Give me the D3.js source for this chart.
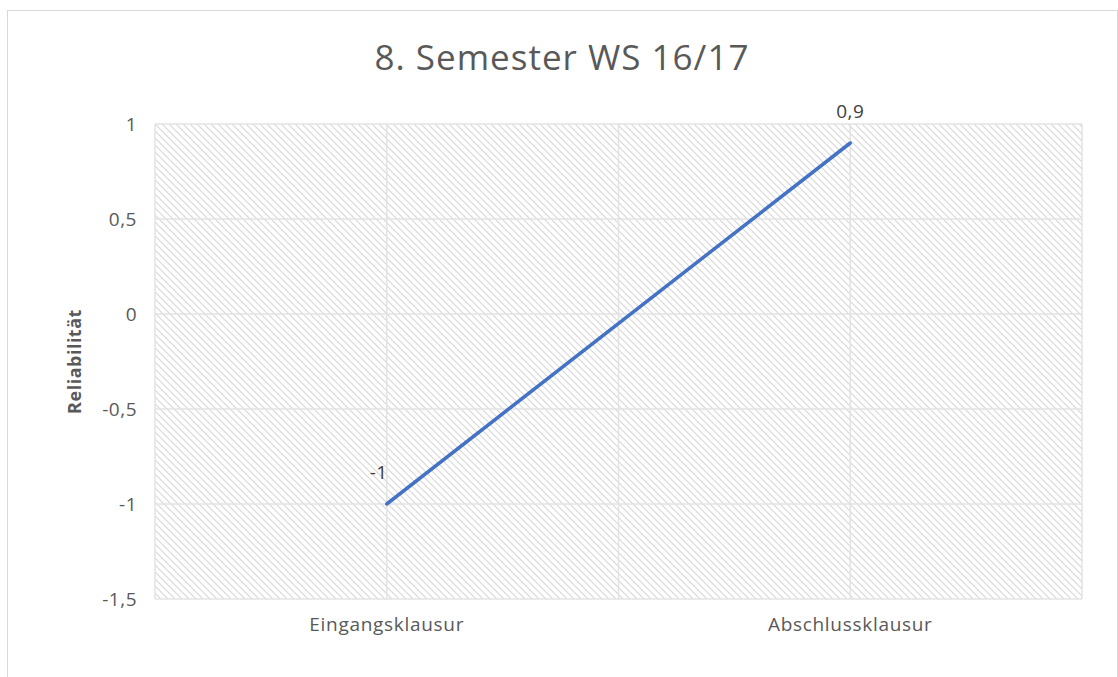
<!DOCTYPE html>
<html>
<head>
    <script src="https://d3js.org/d3.v7.min.js"></script>
    <style>
        body { margin: 0; background: #fff; }
        text { font-family: "Open Sans", sans-serif; fill: #595959; }
    </style>
</head>
<body>
    <script>
        // Data
        var categories = ["Eingangsklausur", "Abschlussklausur"];
        var values = [-1, 0.9];
        var valueLabels = ["-1", "0,9"];
        var yTicks = [1, 0.5, 0, -0.5, -1, -1.5];
        var yTickLabels = ["1", "0,5", "0", "-0,5", "-1", "-1,5"];

        var W = 1118, H = 677;
        var margin = {top: 124, left: 155, right: 36, bottom: 78};
        var width = W - margin.left - margin.right,
            height = H - margin.top - margin.bottom;

        var svg = d3.select("body").append("svg")
            .attr("width", W)
            .attr("height", H);

        // hatch pattern
        var defs = svg.append("defs");
        var pat = defs.append("pattern")
            .attr("id", "hatch")
            .attr("patternUnits", "userSpaceOnUse")
            .attr("width", 7).attr("height", 7);
        pat.append("path")
            .attr("d", "M-1,-1 L8,8 M-4,3 L4,11 M3,-4 L11,4")
            .attr("stroke", "#d6d6d6")
            .attr("stroke-width", 1.1);

        // chart frame
        svg.append("rect")
            .attr("x", 7.5).attr("y", 10.5)
            .attr("width", W - 8).attr("height", H)
            .attr("fill", "none")
            .attr("stroke", "#d9d9d9");

        var g = svg.append("g")
            .attr("transform", "translate(" + margin.left + "," + margin.top + ")");

        var x = d3.scaleBand().domain(categories).range([0, width]);
        var y = d3.scaleLinear().domain([-1.5, 1]).range([height, 0]);

        g.append("rect")
            .attr("width", width).attr("height", height)
            .attr("fill", "url(#hatch)");

        // gridlines
        var xLines = [0];
        categories.forEach(function(c) {
            xLines.push(x(c) + x.bandwidth() / 2);
            xLines.push(x(c) + x.bandwidth());
        });
        g.selectAll(".vg").data(xLines).enter().append("line")
            .attr("x1", function(d) { return d; })
            .attr("x2", function(d) { return d; })
            .attr("y1", 0).attr("y2", height)
            .attr("stroke", "#e3e3e3").attr("stroke-width", 1.5);
        g.selectAll(".hg").data(yTicks).enter().append("line")
            .attr("x1", 0).attr("x2", width)
            .attr("y1", function(d) { return y(d); })
            .attr("y2", function(d) { return y(d); })
            .attr("stroke", "#e3e3e3").attr("stroke-width", 1.5);

        // y axis labels
        var yAxis = g.append("g")
            .call(d3.axisLeft(y).tickValues(yTicks)
                .tickFormat(function(d, i) { return yTickLabels[i]; })
                .tickSize(0).tickPadding(18));
        yAxis.select(".domain").remove();
        yAxis.selectAll("text").style("font-size", "19px").attr("fill", "#595959")
            .style("letter-spacing", "0.5px")
            .style("font-family", "'Open Sans', sans-serif");

        // x axis labels
        var xAxis = g.append("g")
            .attr("transform", "translate(0," + height + ")")
            .call(d3.axisBottom(x).tickSize(0).tickPadding(19));
        xAxis.select(".domain").remove();
        xAxis.selectAll("text").style("font-size", "19px").attr("fill", "#595959")
            .style("letter-spacing", "0.7px")
            .style("font-family", "'Open Sans', sans-serif");

        // line
        var line = d3.line()
            .x(function(d, i) { return x(categories[i]) + x.bandwidth() / 2; })
            .y(function(d) { return y(d); });
        g.append("path")
            .datum(values)
            .attr("d", line)
            .attr("fill", "none")
            .attr("stroke", "#4472C4")
            .attr("stroke-width", 3.5)
            .attr("stroke-linecap", "round");

        // data labels
        g.selectAll(".lbl").data(values).enter().append("text")
            .attr("x", function(d, i) { return x(categories[i]) + x.bandwidth() / 2 - (i === 0 ? 8 : 0); })
            .attr("y", function(d) { return y(d) - 25; })
            .attr("text-anchor", "middle")
            .style("font-size", "19px")
            .style("letter-spacing", "0.5px")
            .style("fill", "#404040")
            .text(function(d, i) { return valueLabels[i]; });

        // title
        svg.append("text")
            .attr("x", 562).attr("y", 70)
            .attr("text-anchor", "middle")
            .style("font-size", "35px")
            .style("letter-spacing", "1px")
            .text("8. Semester WS 16/17");

        // y axis title
        svg.append("text")
            .attr("transform", "translate(81," + (margin.top + height / 2) + ") rotate(-90)")
            .attr("text-anchor", "middle")
            .style("font-size", "18px")
            .style("font-weight", "bold")
            .style("letter-spacing", "0.5px")
            .text("Reliabilität");
    </script>
</body>
</html>
